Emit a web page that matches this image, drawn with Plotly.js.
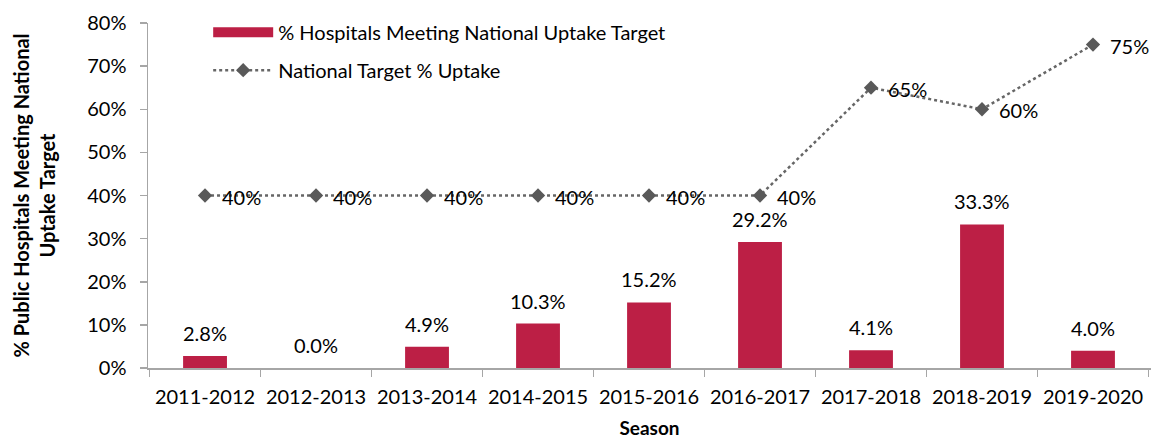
<!DOCTYPE html>
<html>
<head>
<meta charset="utf-8">
<script src="https://cdn.plot.ly/plotly-3.0.1.min.js"></script>
<style>html,body{margin:0;padding:0;background:#fff;}#chart{width:1156px;height:439px;}</style>
</head>
<body>
<div id="chart"></div>
<script>
const seasons = ['2011-2012','2012-2013','2013-2014','2014-2015','2015-2016','2016-2017','2017-2018','2018-2019','2019-2020'];
const hospitalsMeetingPct = [2.8, 0.0, 4.9, 10.3, 15.2, 29.2, 4.1, 33.3, 4.0];
const nationalTargetPct = [40, 40, 40, 40, 40, 40, 65, 60, 75];
const barLabels = hospitalsMeetingPct.map(v => v.toFixed(1) + '%');
const targetLabels = nationalTargetPct.map(v => v + '%');
const yTickVals = [0, 10, 20, 30, 40, 50, 60, 70, 80];
const yTickLabels = ['0%', '10%', '20%', '30%', '40%', '50%', '60%', '70%', '80%'];

const FONT = 'Lato, "Open Sans", sans-serif';
const BAR_COLOR = '#BC1F45';
const LINE_COLOR = '#666666';
const TEXT_COLOR = '#000000';

const traces = [
  {
    // legend entry for the bar series (wide swatch)
    type: 'scatter', mode: 'lines', x: [null], y: [null],
    name: '% Hospitals Meeting National Uptake Target',
    line: {color: BAR_COLOR, width: 12},
    legendgroup: 'a', hoverinfo: 'skip'
  },
  {
    type: 'bar', x: seasons, y: hospitalsMeetingPct,
    name: '% Hospitals Meeting National Uptake Target',
    marker: {color: BAR_COLOR}, showlegend: false, legendgroup: 'a'
  },
  {
    type: 'scatter', mode: 'lines+markers', x: seasons, y: nationalTargetPct,
    name: 'National Target % Uptake',
    line: {color: LINE_COLOR, width: 2.5, dash: 'dot'},
    marker: {symbol: 'diamond', size: 11, color: '#595959'},
    legendgroup: 'b'
  }
];

const annotations = [];
seasons.forEach((s, i) => {
  annotations.push({
    x: s, y: hospitalsMeetingPct[i], xref: 'x', yref: 'y',
    text: barLabels[i], showarrow: false, yanchor: 'middle', yshift: 23,
    font: {family: FONT, size: 20, color: TEXT_COLOR}
  });
  annotations.push({
    x: s, y: nationalTargetPct[i], xref: 'x', yref: 'y',
    text: targetLabels[i], showarrow: false, xanchor: 'left', yanchor: 'middle', xshift: 15, yshift: -1,
    font: {family: FONT, size: 20, color: TEXT_COLOR}
  });
});

const layout = {
  width: 1156, height: 439,
  margin: {l: 148, r: 5, t: 23, b: 71},
  paper_bgcolor: '#fff', plot_bgcolor: '#fff',
  font: {family: FONT, size: 20, color: TEXT_COLOR},
  bargap: 0.605,
  showlegend: true,
  legend: {
    x: 0.06, y: 1.03, xanchor: 'left', yanchor: 'top',
    bgcolor: 'rgba(0,0,0,0)', itemwidth: 60,
    traceorder: 'grouped', tracegroupgap: 9,
    font: {family: FONT, size: 20, color: TEXT_COLOR}
  },
  xaxis: {
    type: 'category',
    showline: true, linecolor: '#A6A6A6', linewidth: 1.5,
    ticks: 'outside', tickson: 'boundaries', ticklen: 7, tickcolor: '#A6A6A6', tickwidth: 1.5,
    ticklabelstandoff: 10,
    showgrid: false, zeroline: false,
    tickfont: {family: FONT, size: 20, color: TEXT_COLOR},
    title: {text: 'Season', font: {family: FONT, size: 19, color: TEXT_COLOR, weight: 'bold'}, standoff: 25}
  },
  yaxis: {
    range: [0, 80], tickmode: 'array', tickvals: yTickVals, ticktext: yTickLabels,
    showline: true, linecolor: '#A6A6A6', linewidth: 1.5,
    ticks: 'outside', ticklen: 7, tickcolor: '#A6A6A6', tickwidth: 1.5,
    ticklabelstandoff: 9,
    showgrid: false, zeroline: false,
    tickfont: {family: FONT, size: 20, color: TEXT_COLOR},
    title: {text: '% Public Hospitals Meeting National<br>Uptake Target', font: {family: FONT, size: 20, color: TEXT_COLOR, weight: 'bold'}, standoff: 26}
  },
  annotations: annotations
};

Plotly.newPlot('chart', traces, layout, {displayModeBar: false, staticPlot: true});
</script>
</body>
</html>
